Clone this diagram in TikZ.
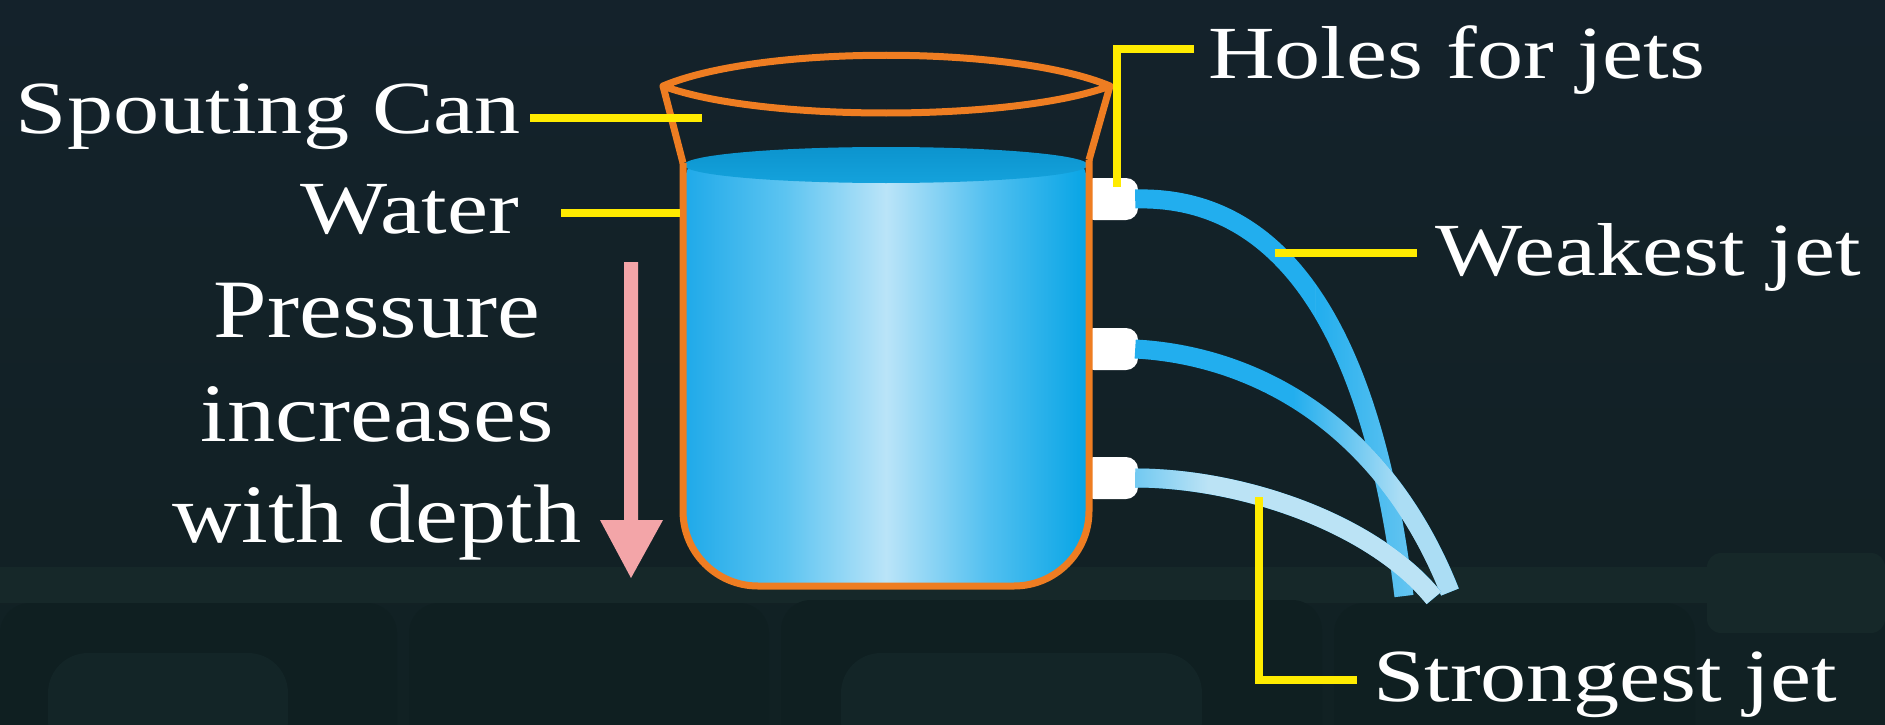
\documentclass[tikz,border=0pt]{standalone}
\usepackage{fontspec}
\usetikzlibrary{fadings}
\newfontfamily\lblfont{Liberation Serif}[FakeStretch=1.23]
\newfontfamily\prsfont{Liberation Serif}[FakeStretch=1.16]

\definecolor{bgtop}{HTML}{14222B}
\definecolor{bgbot}{HTML}{112123}
\definecolor{bgband}{HTML}{162829}
\definecolor{bgseat}{HTML}{0F1F21}
\definecolor{bgseatlow}{HTML}{132527}
\definecolor{canorange}{HTML}{EE7D22}
\definecolor{leadyellow}{HTML}{FFEB00}
\definecolor{jetblue}{HTML}{22AEEE}
\definecolor{jetlight}{HTML}{C4E6F6}
\definecolor{arrowpink}{HTML}{F3A5A8}
\definecolor{wA}{HTML}{1EA9E9}
\definecolor{wB}{HTML}{5CC4F1}
\definecolor{wC}{HTML}{BAE4F8}
\definecolor{wD}{HTML}{52C0F0}
\definecolor{wE}{HTML}{05A4E5}
\definecolor{surfTop}{HTML}{0C94CE}
\definecolor{surfBot}{HTML}{14A2DC}

% water body: deep blue at the walls, pale in the middle
\pgfdeclarehorizontalshading{waterbody}{100bp}{color(0bp)=(wA); color(25bp)=(wA); color(37.5bp)=(wB); color(50bp)=(wC); color(62.5bp)=(wD); color(75bp)=(wE); color(100bp)=(wE)}

% pale streaks along the three jets
\begin{tikzfadingfrompicture}[name=jetfadeA]
  \path (-50bp,-50bp) rectangle (50bp,50bp);
  \shade[left color=transparent!100, right color=transparent!45] (8bp,-50bp) rectangle (30bp,50bp);
  \shade[left color=transparent!45, right color=transparent!100] (30bp,-50bp) rectangle (47bp,50bp);
\end{tikzfadingfrompicture}
\begin{tikzfadingfrompicture}[name=jetfadeB]
  \path (-50bp,-50bp) rectangle (50bp,50bp);
  \shade[left color=transparent!100, right color=transparent!15] (0bp,-50bp) rectangle (16bp,50bp);
  \fill[transparent!15] (16bp,-50bp) rectangle (30bp,50bp);
  \shade[left color=transparent!15, right color=transparent!85] (30bp,-50bp) rectangle (50bp,50bp);
\end{tikzfadingfrompicture}
\begin{tikzfadingfrompicture}[name=jetfadeC]
  \path (-50bp,-50bp) rectangle (50bp,50bp);
  \shade[left color=transparent!100, right color=transparent!5] (-36bp,-50bp) rectangle (-12bp,50bp);
  \fill[transparent!5] (-12bp,-50bp) rectangle (34bp,50bp);
  \shade[left color=transparent!5, right color=transparent!35] (34bp,-50bp) rectangle (50bp,50bp);
\end{tikzfadingfrompicture}

\tikzset{
  lbl/.style={text=white, inner sep=0pt, font=\lblfont\fontsize{75}{80}\selectfont},
  prs/.style={text=white, inner sep=0pt, font=\prsfont\fontsize{83}{90}\selectfont},
  leader/.style={draw=leadyellow, line width=8pt},
  can/.style={draw=canorange, line width=7pt, line join=round},
  hole/.style={fill=white, rectangle, rounded corners=12pt, minimum width=56pt, minimum height=42pt, inner sep=0pt},
  jet/.style={line width=19pt, line cap=butt},
}

\begin{document}
\begin{tikzpicture}[x=1pt, y=-1pt]
  \useasboundingbox (0,0) rectangle (1885,725);

  % dark room backdrop
  \shade[top color=bgtop, bottom color=bgbot] (0,0) rectangle (1885,725);
  \fill[bgband] (0,567) rectangle (1707,603);
  \fill[bgband, rounded corners=14pt] (1707,553) rectangle (1885,633);
  \fill[bgseat, rounded corners=30pt] (0,603) rectangle (397,760);
  \fill[bgseat, rounded corners=30pt] (409,603) rectangle (769,760);
  \fill[bgseat, rounded corners=30pt] (781,600) rectangle (1322,760);
  \fill[bgseat, rounded corners=30pt] (1334,603) rectangle (1695,760);
  \fill[bgseatlow, rounded corners=40pt] (48,653) rectangle (288,760);
  \fill[bgseatlow, rounded corners=40pt] (841,653) rectangle (1202,760);

  % outlet holes
  \node[hole] (h1) at (1110,199) {};
  \node[hole] (h2) at (1110,349) {};
  \node[hole] (h3) at (1110,478) {};

  % water in the can
  \begin{scope}
    \clip (600,165) rectangle (1200,620);
    \shade[shading=waterbody, rounded corners=75pt] (683,120) rectangle (1089,586);
  \end{scope}
  \shade[top color=surfTop, bottom color=surfBot] (886,165) ellipse [x radius=202, y radius=18];

  % can outline
  \draw[can] (663,86) .. controls (760,45) and (1012,45) .. (1110,86)
             .. controls (1012,122) and (760,122) .. cycle;
  \draw[can] (663,86) -- (683,163);
  \draw[can] (1110,86) -- (1089,160);
  \draw[can, rounded corners=75pt] (683,163) -- (683,586) -- (1089,586) -- (1089,160);

  % jets
  \draw[jet, jetblue] ([xshift=-3pt]h1.east) .. controls (1282,195) and (1372,330) .. (1404,596);
  \draw[jet, jetlight, path fading=jetfadeA] ([xshift=-3pt]h1.east) .. controls (1282,195) and (1372,330) .. (1404,596);
  \draw[jet, jetblue] ([xshift=-3pt]h2.east) .. controls (1250,355) and (1382,420) .. (1450,592);
  \draw[jet, jetlight, path fading=jetfadeB] ([xshift=-3pt]h2.east) .. controls (1250,355) and (1382,420) .. (1450,592);
  \draw[jet, jetblue] ([xshift=-3pt]h3.east) .. controls (1240,478) and (1372,522) .. (1434,598);
  \draw[jet, jetlight, path fading=jetfadeC] ([xshift=-3pt]h3.east) .. controls (1240,478) and (1372,522) .. (1434,598);

  % labels
  \node[lbl, anchor=base east] (spout) at (521,133) {Spouting Can};
  \node[lbl, anchor=base east] (water) at (519,233) {Water};
  \node[lbl, anchor=base west] (holes) at (1208,78) {Holes for jets};
  \node[lbl, anchor=base west] (weak) at (1435,275) {Weakest jet};
  \node[lbl, anchor=base west] (strong) at (1373,701) {Strongest jet};
  \node[prs, anchor=base] (p1) at (377,337) {Pressure};
  \node[prs, anchor=base] (p2) at (377,441) {increases};
  \node[prs, anchor=base] (p3) at (377,542) {with depth};

  % leader lines
  \coordinate (spoutA) at (530,118);  \coordinate (spoutB) at (702,118);
  \coordinate (waterA) at (561,213);  \coordinate (waterB) at (680,213);
  \coordinate (holesA) at (1194,49);  \coordinate (holesB) at (1117,187);
  \coordinate (weakA) at (1275,253);  \coordinate (weakB) at (1417,253);
  \coordinate (strongA) at (1259,497); \coordinate (strongB) at (1357,680);
  \draw[leader] (spoutA) -- (spoutB);
  \draw[leader] (waterA) -- (waterB);
  \draw[leader] (holesA) -| (holesB);
  \draw[leader] (weakA) -- (weakB);
  \draw[leader] (strongA) |- (strongB);

  % pressure arrow
  \fill[arrowpink] (624,262) -- (638,262) -- (638,520) -- (663,520) -- (631,578)
                   -- (600,520) -- (624,520) -- cycle;
\end{tikzpicture}
\end{document}
